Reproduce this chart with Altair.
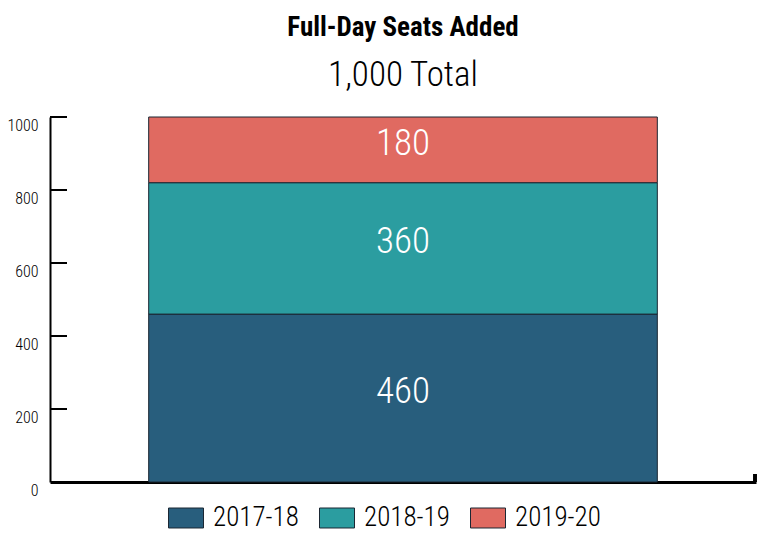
import altair as alt
import pandas as pd

FONT = "'Roboto Condensed', 'DejaVu Sans Condensed', sans-serif"

years = ["2017-18", "2018-19", "2019-20"]
seats = [460, 360, 180]
colors = ["#285e7d", "#2b9da0", "#e06a61"]
tick_values = [0, 200, 400, 600, 800, 1000]
title_text = "Full-Day Seats Added"
subtitle_text = "1,000 Total"

starts, ends, mids = [], [], []
acc = 0
for v in seats:
    starts.append(acc)
    ends.append(acc + v)
    mids.append(acc + v / 2)
    acc += v

df = pd.DataFrame({
    "cat": ["Seats"] * len(years),
    "year": years,
    "seats": seats,
    "start": starts,
    "end": ends,
    "mid": mids,
})
ticks_df = pd.DataFrame({"t": tick_values[1:]})

W, H = 706, 365

xscale = alt.Scale(paddingInner=0, paddingOuter=0.194)
yscale = alt.Scale(domain=[0, 1000], nice=False)

bars = alt.Chart(df).mark_bar(stroke="#1b2733", strokeWidth=1).encode(
    x=alt.X("cat:N", scale=xscale,
            axis=alt.Axis(title=None, labels=False, ticks=False, domain=True,
                          domainColor="black", domainWidth=3)),
    y=alt.Y("start:Q", scale=yscale,
            axis=alt.Axis(title=None, values=tick_values, ticks=False, grid=False,
                          format="d",
                          domainColor="black", domainWidth=2, labelPadding=12,
                          labelBaseline="top", labelFontSize=16, labelColor="black",
                          labelFont=FONT, labelFontWeight=300)),
    y2="end:Q",
    color=alt.Color("year:N", scale=alt.Scale(domain=years, range=colors),
                    legend=alt.Legend(title=None, orient="none", direction="horizontal",
                                      legendX=118, legendY=383, padding=0,
                                      symbolType="M-1,-0.571H1V0.571H-1Z",
                                      symbolSize=1225, symbolStrokeColor="#1b2733",
                                      symbolStrokeWidth=1, symbolOpacity=1,
                                      labelFontSize=27, labelFont=FONT, labelColor="black",
                                      labelFontWeight=300,
                                      labelOffset=9, columnPadding=18)),
)

labels = alt.Chart(df).mark_text(color="white", fontSize=37, font=FONT, fontWeight=300,
                                 baseline="middle", dy=-6).encode(
    x=alt.X("cat:N", scale=xscale),
    y=alt.Y("mid:Q", scale=yscale),
    text=alt.Text("seats:Q"),
)

yticks = alt.Chart(ticks_df).mark_rule(color="black", strokeWidth=2).encode(
    y=alt.Y("t:Q", scale=yscale),
    x=alt.value(0),
    x2=alt.value(17),
)

end_tick = alt.Chart(ticks_df).mark_rule(color="black", strokeWidth=3).encode(
    x=alt.value(W - 1),
    y=alt.value(H),
    y2=alt.value(H - 8),
)

chart = alt.layer(bars, labels, yticks, end_tick).properties(
    width=W,
    height=H,
    padding={"left": 50, "top": 117, "right": 9, "bottom": 51},
    autosize=alt.AutoSizeParams(type="none"),
    title=alt.TitleParams(text=title_text, subtitle=subtitle_text, anchor="middle",
                          font=FONT, fontSize=27, fontWeight="bold", color="black",
                          subtitleFont=FONT, subtitleFontSize=35, subtitleColor="black",
                          subtitleFontWeight=300,
                          subtitlePadding=16, offset=22),
).configure_view(stroke=None)

chart.save("out.html", embed_options={"renderer": "svg", "actions": False})
